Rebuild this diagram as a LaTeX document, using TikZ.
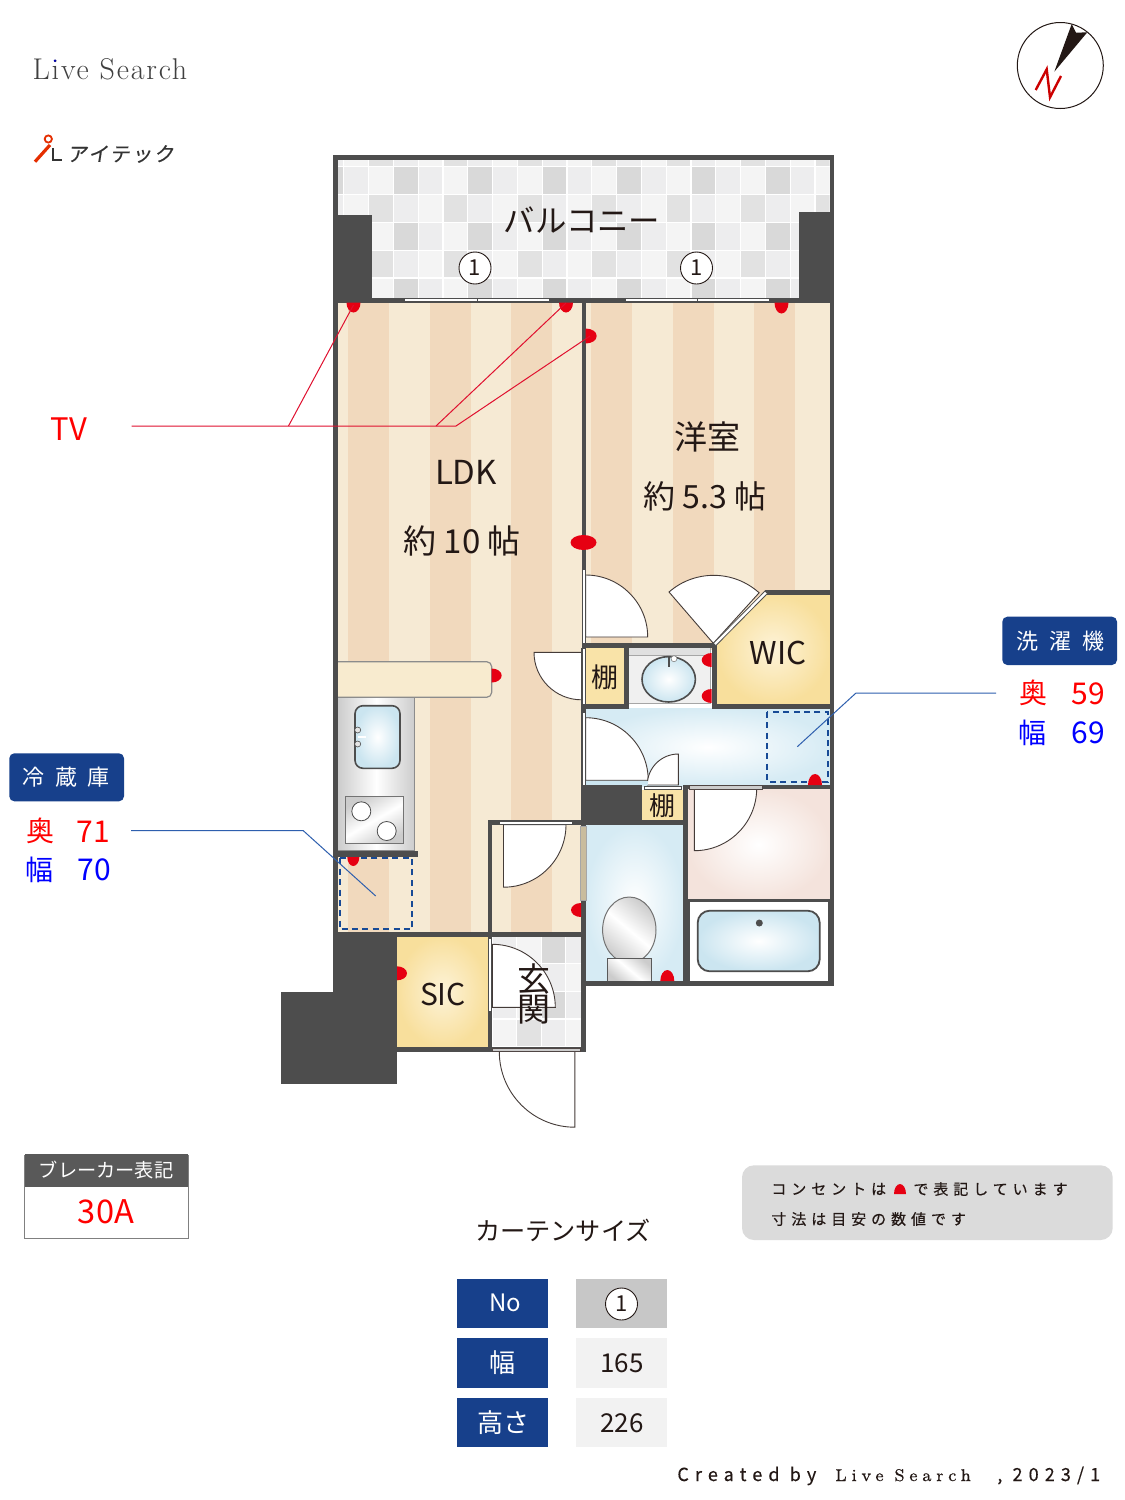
\documentclass[tikz,border=0pt]{standalone}
\usepackage{fontspec}
\newfontfamily\jp{Noto Sans CJK JP}
\newfontfamily\jpsp[LetterSpace=33,FakeBold=0.45]{Noto Sans CJK JP}
\newfontfamily\ensp[LetterSpace=34,FakeBold=0.4]{Noto Sans CJK JP}
\newfontfamily\logojp[LetterSpace=10,FakeBold=0.4,FakeSlant=0.15]{Noto Sans CJK JP}
\newfontfamily\lmsp[LetterSpace=6]{Latin Modern Roman}
\newfontfamily\lmbsp[LetterSpace=29,FakeBold=0.6]{Latin Modern Roman}
\newcommand\fs[1]{\fontsize{#1}{#1}\selectfont}
\definecolor{wallc}{HTML}{4D4D4D}
\definecolor{woodl}{HTML}{F6EAD4}
\definecolor{woodd}{HTML}{F1D9BD}
\definecolor{ta}{HTML}{F4F4F4}
\definecolor{tb}{HTML}{EDEDEE}
\definecolor{tc}{HTML}{E2E2E2}
\definecolor{td}{HTML}{D9D9D9}
\definecolor{navy}{HTML}{17408B}
\definecolor{ink}{HTML}{231815}
\definecolor{outlet}{HTML}{E60012}
\definecolor{dashblue}{HTML}{174A96}
\definecolor{leadblue}{HTML}{2E5FAE}
\definecolor{leadred}{HTML}{E0102F}
\definecolor{yelout}{HTML}{F8DF9C}
\definecolor{yelin}{HTML}{FDF3D8}
\definecolor{bluout}{HTML}{CBE5F0}
\definecolor{bluwash}{HTML}{D6EBF4}
\definecolor{pinkout}{HTML}{F4E3DC}
\definecolor{countc}{HTML}{F8EBCF}
\definecolor{beige}{HTML}{C9BC9D}
\tikzset{
  txt/.style={inner sep=0pt,text=ink,font=\jp\fs{16.5pt}},
  leaf/.style={fill=white,draw=ink!85,line width=0.45pt},
  wall/.style={fill=wallc},
  strip/.style={fill=white,draw=wallc,line width=0.5pt},
  sill/.style={fill=black!20,draw=ink!80,line width=0.5pt},
  dashbox/.style={draw=dashblue,line width=1pt,dash pattern=on 3pt off 2.2pt},
  leadb/.style={draw=leadblue,line width=0.5pt},
  leadr/.style={draw=leadred,line width=0.5pt},
  num/.style={circle,draw=ink,fill=white,line width=0.45pt,inner sep=0pt,minimum size=16pt,text=ink,font=\jp\fs{11pt}},
  tagbox/.style={rounded corners=2.5pt,fill=navy},
  cellblue/.style={fill=navy,inner sep=0pt,text=white,font=\jp\fs{13pt}},
  outletf/.style={fill=outlet},
  metal/.style={left color=black!20,right color=black!20,middle color=white}
}
\newcommand\tiles[8]{%
  \foreach \c in {#5,...,#6}{\foreach \r in {#7,...,#8}{%
    \pgfmathtruncatemacro\m{mod(\c+3,3)}%
    \pgfmathtruncatemacro\o{mod(\r+2,2)}%
    \ifnum\o=0 \ifcase\m \def\tcol{tb}\or\def\tcol{ta}\or\def\tcol{td}\fi
    \else \ifcase\m \def\tcol{ta}\or\def\tcol{tc}\or\def\tcol{tb}\fi\fi
    \fill[\tcol] ({#1+\c*#3+0.6},{#2+\r*#4+0.6}) rectangle ({#1+(\c+1)*#3-0.6},{#2+(\r+1)*#4-0.6});
  }}}
% half-ellipse outlets: x, y, rx, ry
\newcommand\outR[4]{\fill[outletf] (#1,#2-#4) arc[start angle=-90,end angle=90,x radius=#3,y radius=#4] -- cycle;}
\newcommand\outL[4]{\fill[outletf] (#1,#2-#4) arc[start angle=-90,end angle=-270,x radius=#3,y radius=#4] -- cycle;}
\newcommand\outD[4]{\fill[outletf] (#1-#3,#2) arc[start angle=180,end angle=0,x radius=#3,y radius=#4] -- cycle;}
\newcommand\outU[4]{\fill[outletf] (#1-#3,#2) arc[start angle=180,end angle=360,x radius=#3,y radius=#4] -- cycle;}
\begin{document}
\begin{tikzpicture}[x=0.5pt,y=-0.5pt]
\path[use as bounding box,fill=white] (0,0) rectangle (1125,1500);

% ---------- floors ----------
\fill[woodl] (336,300) rectangle (583,934);
\foreach \a in {348,429.5,510.5}{\fill[woodd] (\a,300) rectangle (\a+41,934);}
\fill[woodl] (584,300) rectangle (832,650);
\foreach \a in {591,672.5,754}{\fill[woodd] (\a,300) rectangle (\a+41,650);}

% balcony tiles
\fill[white] (336,158) rectangle (831,300);
\begin{scope}
  \clip (337.5,159.5) rectangle (829.5,299);
  \tiles{343.7}{166.4}{24.8}{27.9}{-1}{20}{-1}{5}
\end{scope}
% entrance tiles
\fill[white] (492,936) rectangle (582,1048);
\begin{scope}
  \clip (492.3,936.5) rectangle (581,1048);
  \tiles{492.3}{935.5}{24.4}{27.8}{0}{3}{0}{3}
\end{scope}

% ---------- rooms ----------
\shade[inner color=yelin,outer color=yelout] (765,594) -- (830,594) -- (830,704) -- (716,704) -- (716,645) -- cycle;
\shade[inner color=yelin,outer color=yelout] (397,936) rectangle (488,1047);
\fill[yelout!88!white] (586,647) rectangle (625,705);
\fill[yelout!88!white] (642,790) rectangle (684,821);
\shade[inner color=white,outer color=bluwash] (585,708) rectangle (831,786);
\shade[inner color=white,outer color=bluwash] (585,825) rectangle (684,982);
\shade[inner color=white,outer color=pinkout] (687,789) rectangle (830,900);
\fill[white] (689,902) rectangle (828,981);

% wash counter
\fill[black!6] (629,648) rectangle (711,704);
\fill[black!12] (629,648) rectangle (711,655);
\draw[black!35,line width=0.4pt] (629,655) -- (711,655) (629,703.5) -- (711,703.5) (710.7,648) -- (710.7,704);
\shadedraw[inner color=white,outer color=bluout,draw=wallc,line width=0.8pt] (668.7,679.3) ellipse[x radius=26.7,y radius=22.7];
\draw[wallc,line width=1pt] (668.7,657.3) -- (668.7,667.3);
\filldraw[fill=white,draw=black!50,line width=0.3pt] (674,658.7) circle[radius=3];

% counter and kitchen
\draw[fill=countc,draw=black!45,line width=0.6pt,rounded corners=2.5pt] (337,661.7) -- (491.7,661.7) -- (491.7,697.3) -- (337,697.3);
\shadedraw[metal,draw=black!45,line width=0.4pt] (337.7,697.3) rectangle (414.7,850.7);
\shadedraw[inner color=white,outer color=bluout,draw=wallc,line width=0.8pt,rounded corners=4pt] (355,705.7) rectangle (400,768.3);
\filldraw[fill=black!10,draw=wallc,line width=0.3pt] (357.7,730) circle[radius=3] (357.7,744) circle[radius=3];
\fill[white] (358,735.5) rectangle (366,738);
\shadedraw[metal,shading angle=30,draw=black!55,line width=0.5pt] (345.3,796.7) rectangle (403.7,843.3);
\filldraw[fill=white,draw=wallc,line width=0.4pt] (361.3,811.3) circle[radius=9.5] (386.7,831) circle[radius=9.5];

% bath tub & toilet
\shadedraw[inner color=white,outer color=bluout,draw=wallc,line width=0.9pt,rounded corners=6pt] (697.7,910.7) rectangle (819.7,971.3);
\fill[wallc] (759.3,923) circle[radius=3.5];
\shadedraw[metal,shading angle=-40,draw=black!55,line width=0.5pt] (629.3,930) ellipse[x radius=26.7,y radius=33];
\shadedraw[metal,shading angle=-40,draw=black!65,line width=0.5pt] (607.3,958.3) rectangle (651.7,981);

% ---------- door leaves ----------
\path[leaf] (585.7,575) arc[start angle=-90,end angle=0,radius=62] -- (585.7,637) -- cycle;
\path[leaf] (669,592) arc[start angle=229,end angle=312,radius=68] -- (713.3,643.3) -- cycle;
\path[leaf] (534,652.3) arc[start angle=180,end angle=90,radius=47.5] -- (581.5,652.3) -- cycle;
\path[leaf] (585.7,717.7) arc[start angle=-90,end angle=0,radius=62.5] -- (585.7,780.2) -- cycle;
\path[leaf] (678.3,754) arc[start angle=-90,end angle=-180,radius=31] -- (678.3,785) -- cycle;
\path[leaf] (756.7,788.3) arc[start angle=0,end angle=90,radius=62.4] -- (694.3,788.3) -- cycle;
\path[leaf] (566,824.7) arc[start angle=0,end angle=90,radius=62.5] -- (503.5,824.7) -- cycle;
\path[leaf] (492.3,944.3) arc[start angle=-90,end angle=0,radius=63] -- (492.3,1007.3) -- cycle;
\path[draw=ink!85,line width=0.45pt] (499.3,1051.7) arc[start angle=180,end angle=90,radius=75.5] -- (574.8,1051.7);

% ---------- walls ----------
\fill[wall] (333,154.6) rectangle (834.3,159.7);
\fill[wall] (333,154.6) rectangle (337.6,936);
\fill[wall] (829.8,154.6) rectangle (834.3,986);
\fill[wall] (337,214.5) rectangle (372,300);
\fill[wall] (799,212) rectangle (830,300);
\fill[wall] (333,297.5) rectangle (834.3,302.5);
\fill[wall] (581.7,298) rectangle (585.7,643);
\fill[wall] (581.7,643) -- (716.7,643) -- (716.7,648) -- (581.7,648) -- cycle;
\fill[wall] (711.7,643) rectangle (716.7,709);
\fill[wall] (581.7,704) rectangle (629,709);
\fill[wall] (624.3,643) rectangle (629,709);
\fill[wall] (711.7,704) rectangle (834.3,709);
\fill[wall] (765,590) rectangle (834.3,594.5);
\fill[wall] (581,648) rectangle (585.7,712);
\fill[wall] (581,712) rectangle (585.7,790);
\fill[wall] (581,785) rectangle (642.3,825);
\fill[wall] (642.3,820) rectangle (687,825);
\fill[wall] (683.3,785) rectangle (687.7,986);
\fill[wall] (683.3,785) rectangle (834.3,789.3);
\fill[wall] (687.7,899.3) rectangle (834.3,902.3);
\fill[wall] (687.7,902) rectangle (689.7,982);
\fill[wall] (827.7,902) rectangle (830,982);
\fill[wall] (581,980.5) rectangle (834.3,986);
\fill[wall] (581,825) rectangle (586,1052);
\fill[wall] (337,850.7) rectangle (417.7,857);
\fill[wall] (487.7,820.3) rectangle (492.3,1052);
\fill[wall] (487.7,820.3) rectangle (582,825);
\fill[wall] (333,932) rectangle (582,936.7);
\fill[wall] (397,1046.7) rectangle (586,1051.7);
\fill[wall] (333,932) rectangle (397,992);
\fill[wall] (281.3,992) rectangle (397,1083.7);

% ---------- windows and door strips ----------
\foreach \a/\b in {404.7/477,477/549,625/697,697/769}{\path[strip] (\a,298.5) rectangle (\b,301.8);}
\path[strip] (582.4,569) rectangle (585.6,643);
\path[strip] (582.4,648) rectangle (585.6,704);
\path[strip] (582.4,712.3) rectangle (585.6,785);
\fill[bluout] (586,781) rectangle (648,784.5);
\path[strip] (644,786) rectangle (681.7,789);
\path[sill] (689,785.7) rectangle (762.3,789);
\path[strip] (499.3,821.3) rectangle (572.7,824.7);
\path[sill] (492.3,1048) rectangle (580.7,1051.7);
\path[strip] (488.3,938.3) rectangle (491.3,1011);
\path[fill=white,draw=wallc,line width=0.4pt] (713.3,643.3) -- (765,591) -- (767.5,593.4) -- (715.8,645.7) -- cycle;
\path[fill=beige,draw=black!35,line width=0.3pt] (580.7,826.7) rectangle (586.7,900);

% ---------- dashed appliance boxes ----------
\path[dashbox] (767,711.7) rectangle (827.7,781.7);
\path[dashbox] (339.7,858.3) rectangle (412.3,929.3);

% ---------- outlets ----------
\outD{353.5}{302.5}{7}{10}
\outD{566}{302.5}{7}{10}
\outD{781.5}{302.5}{7}{11}
\outR{585.7}{336}{11}{7.5}
\fill[outletf] (583.5,542.5) ellipse[x radius=13,y radius=7.5];
\outR{491.7}{675.5}{10}{7}
\outL{711.7}{660}{10}{7}
\outL{711.7}{696}{10}{7}
\outU{815}{785}{7}{11}
\outD{353.3}{857}{6}{9}
\outL{581}{910}{10}{7}
\outR{397}{973.3}{10}{7}
\outU{667.3}{981}{7}{11}

% ---------- floor labels ----------
\node[txt,font=\jp\fs{15.7pt}] (balcony) at (582,220) {バルコニー};
\node[num] (n1a) at (475,268) {1};
\node[num] (n1b) at (696.5,268) {1};
\node[txt] (ldk) at (466,472) {LDK};
\node[txt] (ldk2) at (462,541) {約 10 帖};
\node[txt] (youshitsu) at (707,437) {洋室};
\node[txt,font=\jp\fs{16pt}] (you2) at (705,496) {約 5.3 帖};
\node[txt,font=\jp\fs{15.7pt}] (wic) at (778,653) {WIC};
\node[txt,font=\jp\fs{15pt}] (sic) at (443,994) {SIC};
\node[txt] (gen1) at (534,979) {玄};
\node[txt] (gen2) at (534,1010) {関};
\node[txt,font=\jp\fs{13.5pt}] (tana1) at (605,677) {棚};
\node[txt,font=\jp\fs{13pt}] (tana2) at (662,806) {棚};

% ---------- TV leaders ----------
\node[txt,text=red,font=\jp\fs{15.5pt}] (tv) at (69,429) {TV};
\coordinate (tvs) at (131.5,426);
\coordinate (tvj1) at (288.5,426);
\coordinate (tvj2) at (436,426);
\coordinate (tvj3) at (456,426);
\coordinate (tva) at (353.5,305);
\coordinate (tvb) at (566,303);
\coordinate (tvc) at (590,336);
\draw[leadr] (tvs) -- (tvj3) -- (tvc);
\draw[leadr] (tvj1) -- (tva);
\draw[leadr] (tvj2) -- (tvb);

% ---------- fridge tag ----------
\path[tagbox] (9.3,753.3) rectangle (124,801.3);
\node[txt,text=white,font=\jp\fs{11pt}] (fridge) at (66,777) {冷\hspace{5.5pt}蔵\hspace{5.5pt}庫};
\node[txt,text=red,font=\jp\fs{14pt}] (fo) at (40,830.5) {奥};
\node[txt,text=red,font=\jp\fs{15pt}] (fov) at (93,832) {71};
\node[txt,text=blue,font=\jp\fs{14pt}] (fw) at (39.5,870) {幅};
\node[txt,text=blue,font=\jp\fs{15pt}] (fwv) at (94,870) {70};
\coordinate (fl1) at (131,830.7);
\coordinate (fl2) at (303.3,830.7);
\coordinate (fl3) at (375.7,896);
\draw[leadb] (fl1) -- (fl2) -- (fl3);

% ---------- washer tag ----------
\path[tagbox] (1002.3,616.7) rectangle (1117,665);
\node[txt,text=white,font=\jp\fs{11pt}] (washer) at (1060,641) {洗\hspace{5.5pt}濯\hspace{5.5pt}機};
\node[txt,text=red,font=\jp\fs{14pt}] (wo) at (1033,692.5) {奥};
\node[txt,text=red,font=\jp\fs{15pt}] (wov) at (1088,694) {59};
\node[txt,text=blue,font=\jp\fs{14pt}] (ww) at (1032,733) {幅};
\node[txt,text=blue,font=\jp\fs{15pt}] (wwv) at (1088,733) {69};
\coordinate (wl1) at (996,693);
\coordinate (wl2) at (856,693);
\coordinate (wl3) at (797.3,746.7);
\draw[leadb] (wl1) -- (wl2) -- (wl3);

% ---------- breaker box ----------
\path[fill=white,draw=black!50,line width=0.5pt] (24.7,1155) rectangle (188,1238.3);
\fill[fill=black!65] (24.7,1154) rectangle (188,1187.3);
\node[txt,text=white,font=\jp\fs{9.6pt}] (brk) at (106,1170.5) {ブレーカー表記};
\node[txt,text=red,font=\jp\fs{16.3pt}] (amp) at (106,1212) {30A};

% ---------- curtain table ----------
\node[txt,font=\jp\fs{12.6pt}] (ctitle) at (563,1230) {カーテンサイズ};
\fill[navy] (457,1279) rectangle (548,1328.3);
\fill[navy] (457,1338.3) rectangle (548,1387.7);
\fill[navy] (457,1398.3) rectangle (548,1447.3);
\fill[black!22] (576,1279) rectangle (666.5,1328.3);
\fill[black!5] (576,1338.3) rectangle (666.5,1387.7);
\fill[black!5] (576,1398.3) rectangle (666.5,1447.3);
\node[cellblue,font=\jp\fs{12pt}] (cno) at (505,1303) {No};
\node[cellblue] (cw) at (502.5,1363) {幅};
\node[cellblue] (ch) at (503,1422.5) {高さ};
\node[num] (c1) at (621.5,1304) {1};
\node[txt,font=\jp\fs{13pt}] (v165) at (622,1363) {165};
\node[txt,font=\jp\fs{13pt}] (v226) at (622,1423) {226};

% ---------- note ----------
\path[fill=black!14,rounded corners=6pt] (742,1165.3) rectangle (1112.7,1240);
\node[txt,anchor=west,font=\jpsp\fs{7.5pt}] (note1a) at (771,1189) {コンセントは};
\outU{900}{1194}{6}{10}
\node[txt,anchor=west,font=\jpsp\fs{7.5pt}] (note1b) at (913,1189) {で表記しています};
\node[txt,anchor=west,font=\jpsp\fs{7.5pt}] (note2) at (771,1219) {寸法は目安の数値です};

% ---------- credit ----------
\node[txt,anchor=base west,font=\ensp\fs{9pt}] (cr1) at (677,1481) {Created by};
\node[txt,anchor=base west,font=\lmbsp\fs{8.5pt}] (cr2) at (835,1481) {Live Search};
\node[txt,anchor=base west,font=\ensp\fs{9pt}] (cr3) at (997,1481) {, 2023/1};

% ---------- brand ----------
\node[txt,text=black!75,font=\lmsp\fs{15pt}] (brand) at (110,69) {Live Search};
\fill[blue!70!black] (55,60.7) circle[radius=1.3];
\node[txt,text=black!80,font=\logojp\fs{10pt},anchor=west] (aitec) at (67,154) {アイテック};
\draw[red!60!orange!90!black,line width=0.9pt] (48.3,139) circle[radius=3.6];
\draw[red!60!orange!90!black,line width=1.6pt] (50,145) -- (35,161.7);
\draw[black!80,line width=1.1pt] (53.3,148.3) -- (53.3,160) -- (61.7,160);

% ---------- compass ----------
\draw[ink,line width=0.5pt] (1060.3,65.5) circle[radius=43];
\fill[ink] (1054.3,71.7) -- (1071.7,24) -- (1076,32.7) -- (1087.3,32.3) -- cycle;
\draw[red!80!black,line width=1.2pt] (1035.7,90) -- (1046.7,69.3) -- (1050,97.3) -- (1061,76);
\end{tikzpicture}
\end{document}
